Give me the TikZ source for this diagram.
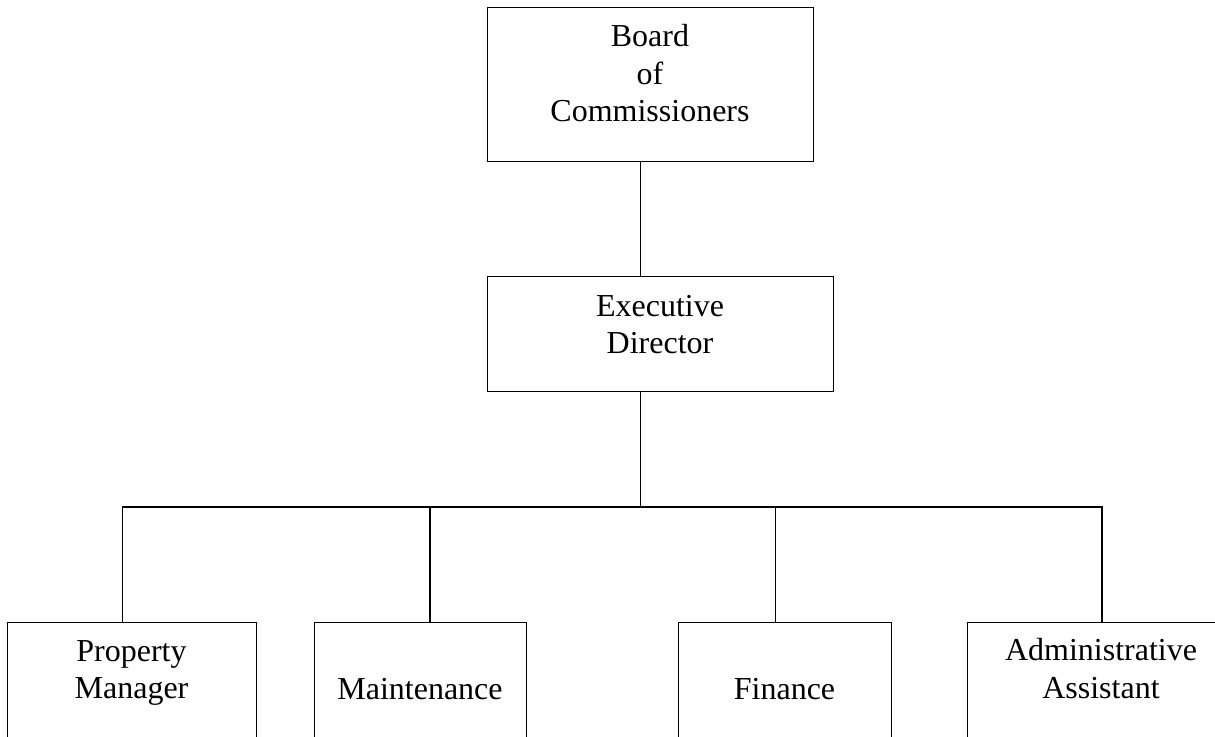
\documentclass[tikz,border=0pt]{standalone}
\usepackage{fontspec}
\setmainfont{Liberation Serif}
\begin{document}
\begin{tikzpicture}[x=1pt,y=-1pt,
  box/.style={draw=black, line width=1.3pt, minimum width=#1, anchor=north west, inner sep=0pt},
  lbl/.style={anchor=base, align=center, inner sep=0pt, font=\fontsize{32}{37.5}\selectfont},
  wire/.style={draw=black, line width=1.3pt}]
\useasboundingbox (0,0) rectangle (1215,736);
% boxes
\node[box=326pt, minimum height=154pt] (board) at (487,7) {};
\node[box=346pt, minimum height=115pt] (exec) at (487,276) {};
\node[box=249pt, minimum height=130pt] (pm) at (7,622) {};
\node[box=212pt, minimum height=130pt] (mt) at (314,622) {};
\node[box=213pt, minimum height=130pt] (fin) at (678,622) {};
\node[box=268pt, minimum height=130pt] (adm) at (967,622) {};
% texts (anchor=base is the baseline of the last line)
\node[lbl] (tboard) at (650,121.7) {Board\\of\\Commissioners};
\node[lbl] (texec) at (660,353.5) {Executive\\Director};
\node[lbl] (tpm) at (131.5,698.5) {Property\\Manager};
\node[lbl] (tmt) at (420,699) {Maintenance};
\node[lbl] (tfin) at (784.5,699) {Finance};
\node[lbl] (tadm) at (1101,698) {Administrative\\Assistant};
% connector coordinates
\coordinate (spine) at (640.7,507);
\coordinate (dpm) at (122.7,507);
\coordinate (dmt) at (430,507);
\coordinate (dfin) at (775.3,507);
\coordinate (dadm) at (1102,507);
% connectors
\draw[wire] (board.south -| spine) -- (exec.north -| spine);
\draw[wire] (exec.south -| spine) -- (spine);
\draw[wire] (pm.north -| dpm) -- (dpm) -- (dadm) -- (adm.north -| dadm);
\draw[wire] (dmt) -- (mt.north -| dmt);
\draw[wire] (dfin) -- (fin.north -| dfin);
\end{tikzpicture}
\end{document}
